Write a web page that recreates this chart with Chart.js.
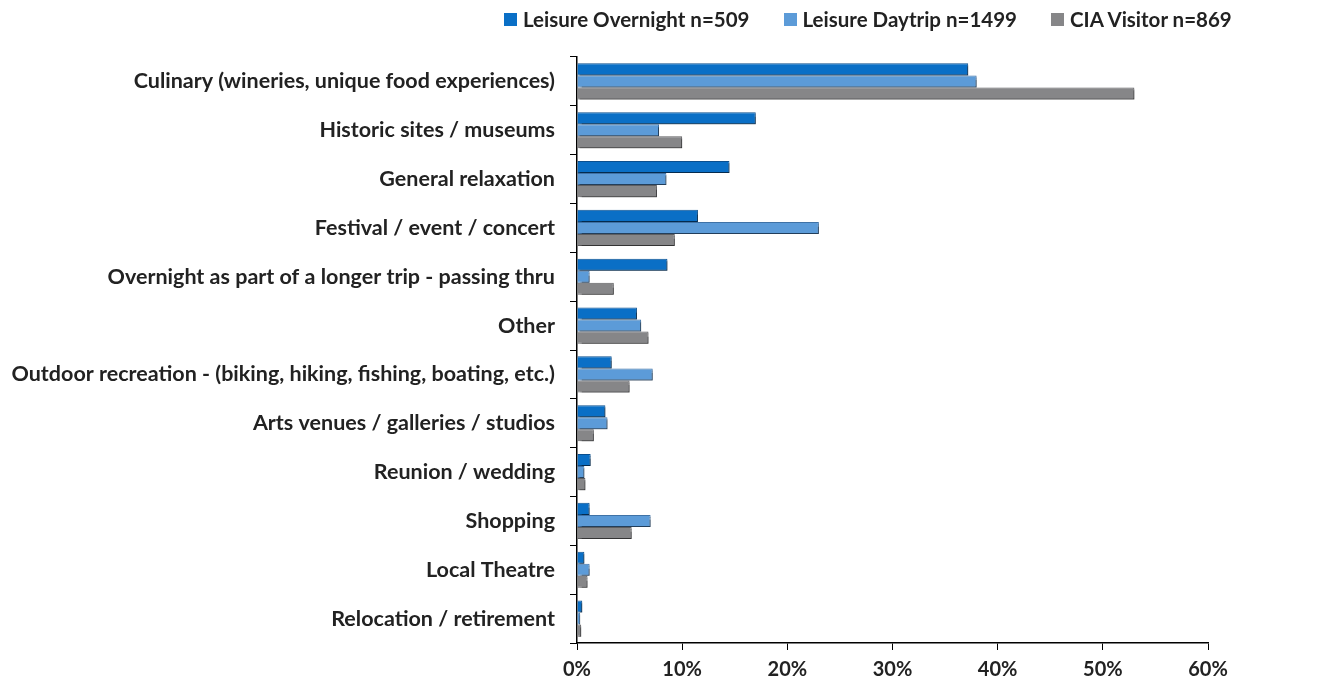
<!DOCTYPE html>
<html>
<head>
<meta charset="utf-8">
<script src="https://cdn.jsdelivr.net/npm/chart.js@4"></script>
<style>
  html, body { margin: 0; padding: 0; background: #fff; }
  #wrap { position: relative; width: 1333px; height: 688px; }
  .legend {
      position: absolute; left: 504px; top: 7px;
      display: flex; align-items: center;
      font-family: Lato, "Open Sans", sans-serif; font-weight: bold; font-size: 20.5px; color: #222;
  }
  .legend span.item { display: flex; align-items: center; margin-right: 34px; }
  .legend span.box { display: inline-block; width: 13px; height: 13px; margin-right: 6px; }
</style>
</head>
<body>
<div id="wrap">
  <div class="legend" id="legend"></div>
  <canvas id="myBarChart"></canvas>
</div>
<script>
const categories = [
    'Culinary (wineries, unique food experiences)',
    'Historic sites / museums',
    'General relaxation',
    'Festival / event / concert',
    'Overnight as part of a longer trip - passing thru',
    'Other',
    'Outdoor recreation - (biking, hiking, fishing, boating, etc.)',
    'Arts venues / galleries / studios',
    'Reunion / wedding',
    'Shopping',
    'Local Theatre',
    'Relocation / retirement'
];
const leisureOvernight = [37.2, 17.0, 14.5, 11.5, 8.6, 5.7, 3.3, 2.7, 1.3, 1.2, 0.7, 0.5];
const leisureDaytrip   = [38.0, 7.8, 8.5, 23.0, 1.2, 6.1, 7.2, 2.9, 0.7, 7.0, 1.2, 0.3];
const ciaVisitor       = [53.0, 10.0, 7.6, 9.3, 3.5, 6.8, 5.0, 1.6, 0.8, 5.2, 1.0, 0.4];
const seriesNames = ['Leisure Overnight n=509', 'Leisure Daytrip n=1499', 'CIA Visitor n=869'];
const seriesColors = ['#0a6fc6', '#5c9bd8', '#868688'];
const seriesBorders = ['#0a4f8f', '#3f72a6', '#5e5e60'];
const xTicks = [0, 10, 20, 30, 40, 50, 60];

const FONT = 'Lato, "Open Sans", sans-serif';

// เงาแบบ 3D ให้แท่งกราฟ
const barShadow = {
    id: 'barShadow',
    beforeDatasetsDraw(chart) {
        const ctx = chart.ctx;
        ctx.save();
        ctx.shadowColor = 'rgba(0,0,0,0.45)';
        ctx.shadowOffsetX = 2;
        ctx.shadowOffsetY = 2;
        ctx.shadowBlur = 1;
    },
    afterDatasetsDraw(chart) {
        chart.ctx.restore();
    }
};

document.addEventListener("DOMContentLoaded", function () {
    const ctx = document.getElementById('myBarChart').getContext('2d');

    const myBarChart = new Chart(ctx, {
        type: 'bar',
        data: {
            labels: categories,
            datasets: seriesNames.map((name, i) => ({
                label: name,
                data: [leisureOvernight, leisureDaytrip, ciaVisitor][i],
                backgroundColor: seriesColors[i],
                borderColor: seriesBorders[i],
                borderWidth: 1
            }))
        },
        options: {
            indexAxis: 'y',
            responsive: true,
            maintainAspectRatio: false,
            animation: false,
            layout: {
                padding: { left: 0, right: 125, top: 57, bottom: 0 }
            },
            datasets: {
                bar: {
                    categoryPercentage: 0.74,
                    barPercentage: 1.0
                }
            },
            scales: {
                x: {
                    min: 0,
                    max: 60,
                    afterBuildTicks: (scale) => {
                        scale.ticks = xTicks.map(v => ({ value: v }));
                    },
                    afterFit: (scale) => { scale.height = 45; },
                    grid: {
                        drawOnChartArea: false,
                        color: '#000',
                        tickLength: 7
                    },
                    border: { color: '#000', width: 1.5 },
                    ticks: {
                        color: '#222',
                        padding: 8,
                        font: { family: FONT, size: 20, weight: 'bold' },
                        callback: v => v + '%'
                    }
                },
                y: {
                    afterFit: (scale) => { scale.width = 577; },
                    grid: {
                        drawOnChartArea: false,
                        color: '#000',
                        tickLength: 7
                    },
                    border: { color: '#000', width: 1.5 },
                    ticks: {
                        color: '#222',
                        padding: 15,
                        autoSkip: false,
                        font: { family: FONT, size: 21.5, weight: 'bold' }
                    }
                }
            },
            plugins: {
                legend: { display: false },
                tooltip: { enabled: false }
            }
        },
        plugins: [barShadow]
    });

    // legend แบบ HTML
    const legend = document.getElementById('legend');
    myBarChart.data.datasets.forEach(ds => {
        const item = document.createElement('span');
        item.className = 'item';
        const box = document.createElement('span');
        box.className = 'box';
        box.style.backgroundColor = ds.backgroundColor;
        item.appendChild(box);
        item.appendChild(document.createTextNode(ds.label));
        legend.appendChild(item);
    });
});
</script>
</body>
</html>
